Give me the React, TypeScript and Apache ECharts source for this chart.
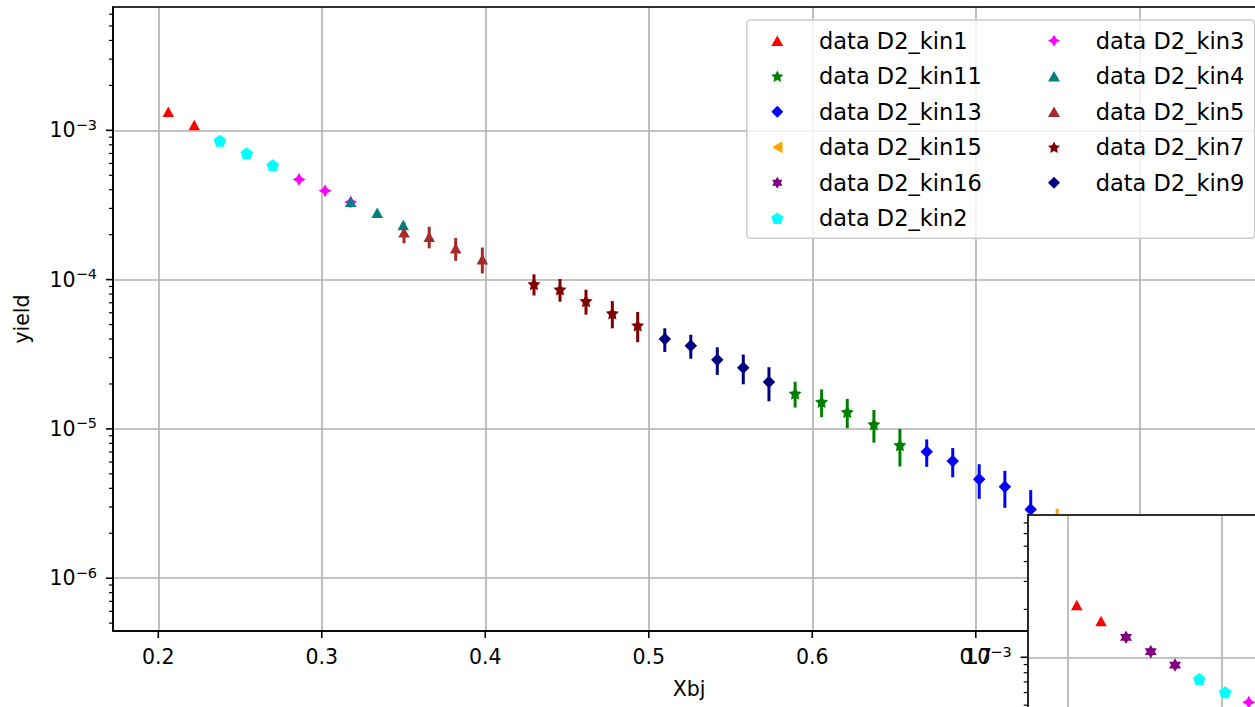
import React, { useEffect, useRef } from 'react';
import * as echarts from 'echarts';

const FONT = 'DejaVu Sans';

// ---------- main panel data (Xbj, yield, error) ----------
const kin1Xbj = [0.2061, 0.222];
const kin1Yield = [1.333e-3, 1.085e-3];
const kin1Err = [2.0e-5, 1.6e-5];

const kin11Xbj = [0.5895, 0.6057, 0.6214, 0.6377, 0.6536];
const kin11Yield = [1.73e-5, 1.52e-5, 1.3e-5, 1.074e-5, 7.8e-6];
const kin11Err = [3.4e-6, 3.2e-6, 2.9e-6, 2.65e-6, 2.2e-6];

const kin13Xbj = [0.67, 0.6859, 0.7021, 0.7178, 0.7336];
const kin13Yield = [7.04e-6, 6.09e-6, 4.6e-6, 4.1e-6, 2.89e-6];
const kin13Err = [1.47e-6, 1.35e-6, 1.2e-6, 1.14e-6, 1.0e-6];

const kin15Xbj = [0.7498];
const kin15Yield = [2.4e-6];
const kin15Err = [0.52e-6];

const kin16Xbj: number[] = [];
const kin16Yield: number[] = [];
const kin16Err: number[] = [];

const kin2Xbj = [0.2377, 0.2541, 0.27];
const kin2Yield = [8.52e-4, 7.01e-4, 5.83e-4];
const kin2Err = [1.5e-5, 1.3e-5, 1.1e-5];

const kin3Xbj = [0.2861, 0.302, 0.3177];
const kin3Yield = [4.69e-4, 3.94e-4, 3.31e-4];
const kin3Err = [1.0e-5, 0.9e-5, 0.8e-5];

const kin4Xbj = [0.3177, 0.3339, 0.3498];
const kin4Yield = [3.32e-4, 2.81e-4, 2.32e-4];
const kin4Err = [0.9e-5, 1.0e-5, 1.2e-5];

const kin5Xbj = [0.3503, 0.3657, 0.3819, 0.3982];
const kin5Yield = [2.08e-4, 1.94e-4, 1.62e-4, 1.37e-4];
const kin5Err = [3.3e-5, 3.2e-5, 2.85e-5, 2.7e-5];

const kin7Xbj = [0.4298, 0.4457, 0.4616, 0.4777, 0.4932];
const kin7Yield = [9.34e-5, 8.61e-5, 7.19e-5, 5.95e-5, 4.94e-5];
const kin7Err = [1.51e-5, 1.5e-5, 1.37e-5, 1.23e-5, 1.13e-5];

const kin9Xbj = [0.5098, 0.5257, 0.5419, 0.5578, 0.5735];
const kin9Yield = [4.0e-5, 3.61e-5, 2.91e-5, 2.57e-5, 2.06e-5];
const kin9Err = [7.2e-6, 6.6e-6, 6.1e-6, 5.8e-6, 5.3e-6];

// ---------- inset panel data ----------
const insetKin1Xbj = [0.2059, 0.2217];
const insetKin1Yield = [2.13e-3, 1.69e-3];
const insetKin16Xbj = [0.238, 0.2541, 0.2699];
const insetKin16Yield = [1.336e-3, 1.084e-3, 8.94e-4];
const insetKin2Xbj = [0.2857, 0.3025];
const insetKin2Yield = [7.3e-4, 6.02e-4];
const insetKin3Xbj = [0.3179];
const insetKin3Yield = [5.21e-4];

// ---------- ticks ----------
const xTickValues = [0.2, 0.3, 0.4, 0.5, 0.6, 0.7, 0.8];
const yDecadeTicks = [1e-6, 1e-5, 1e-4, 1e-3];
const yMinorDecades = [1e-7, 1e-6, 1e-5, 1e-4, 1e-3];
const minorMantissas = [2, 3, 4, 5, 6, 7, 8, 9];
const insetYDecadeTicks = [1e-3];
const insetYMinorDecades = [1e-4, 1e-3];

// ---------- axis ranges ----------
const X_MIN = 0.1723;
const X_MAX = 0.8769;
const Y_MIN = 4.43e-7;
const Y_MAX = 6.7e-3;
const IX_MIN = 0.17396;
const IX_MAX = 0.43438;
const IY_MIN = 1.019e-4;
const IY_MAX = 7.85e-3;

// ---------- marker shapes ----------
const TRI_UP = 'path://M0,0 L50,-86.6 L100,0 Z';
const TRI_LEFT = 'path://M0,50 L86.6,0 L86.6,100 Z';
const PENTAGON = 'path://M0,-100 L-95.1,-30.9 L-58.8,80.9 L58.8,80.9 L95.1,-30.9 Z';
const STAR5 =
  'path://M0,-100 L-30,-41 L-95.1,-30.9 L-48,15.6 L-58.8,80.9 L0,50 L58.8,80.9 L48,15.6 L95.1,-30.9 L30,-41 Z';
const STAR4 = 'path://M0,-100 L36,-36 L100,0 L36,36 L0,100 L-36,36 L-100,0 L-36,-36 Z';
const STAR6 =
  'path://M0,-100 L-29,-50 L-86.6,-50 L-58,0 L-86.6,50 L-29,50 L0,100 L29,50 L86.6,50 L58,0 L86.6,-50 L29,-50 Z';
const DIAMOND = 'path://M0,-100 L100,0 L0,100 L-100,0 Z';

const mainSets = [
  { name: 'data D2_kin1', xbj: kin1Xbj, yld: kin1Yield, err: kin1Err, color: '#ff0000', symbol: TRI_UP, size: [11.5, 10.5] },
  { name: 'data D2_kin11', xbj: kin11Xbj, yld: kin11Yield, err: kin11Err, color: '#008000', symbol: STAR5, size: [13, 12.5] },
  { name: 'data D2_kin13', xbj: kin13Xbj, yld: kin13Yield, err: kin13Err, color: '#0000ff', symbol: DIAMOND, size: [12.5, 12.5] },
  { name: 'data D2_kin15', xbj: kin15Xbj, yld: kin15Yield, err: kin15Err, color: '#ffa500', symbol: TRI_LEFT, size: [10.5, 11.5] },
  { name: 'data D2_kin16', xbj: kin16Xbj, yld: kin16Yield, err: kin16Err, color: '#800080', symbol: STAR6, size: [12, 13.5] },
  { name: 'data D2_kin2', xbj: kin2Xbj, yld: kin2Yield, err: kin2Err, color: '#00ffff', symbol: PENTAGON, size: [12.5, 12] },
  { name: 'data D2_kin3', xbj: kin3Xbj, yld: kin3Yield, err: kin3Err, color: '#ff00ff', symbol: STAR4, size: [13, 13] },
  { name: 'data D2_kin4', xbj: kin4Xbj, yld: kin4Yield, err: kin4Err, color: '#008080', symbol: TRI_UP, size: [11.5, 10.5] },
  { name: 'data D2_kin5', xbj: kin5Xbj, yld: kin5Yield, err: kin5Err, color: '#a52a2a', symbol: TRI_UP, size: [11.5, 10.5] },
  { name: 'data D2_kin7', xbj: kin7Xbj, yld: kin7Yield, err: kin7Err, color: '#800000', symbol: STAR5, size: [13, 12.5] },
  { name: 'data D2_kin9', xbj: kin9Xbj, yld: kin9Yield, err: kin9Err, color: '#000080', symbol: DIAMOND, size: [12.5, 12.5] },
];

const insetSets = [
  { xbj: insetKin1Xbj, yld: insetKin1Yield, color: '#ff0000', symbol: TRI_UP, size: [11.5, 10.5] },
  { xbj: insetKin16Xbj, yld: insetKin16Yield, color: '#800080', symbol: STAR6, size: [12, 13.5] },
  { xbj: insetKin2Xbj, yld: insetKin2Yield, color: '#00ffff', symbol: PENTAGON, size: [12.5, 12] },
  { xbj: insetKin3Xbj, yld: insetKin3Yield, color: '#ff00ff', symbol: STAR4, size: [13, 13] },
];

const legendCol1 = ['data D2_kin1', 'data D2_kin11', 'data D2_kin13', 'data D2_kin15', 'data D2_kin16', 'data D2_kin2'];
const legendCol2 = ['data D2_kin3', 'data D2_kin4', 'data D2_kin5', 'data D2_kin7', 'data D2_kin9'];

const minorValues = (decades: number[], lo: number, hi: number) => {
  const out: number[] = [];
  decades.forEach((d) => minorMantissas.forEach((m) => {
    const v = m * d;
    if (v > lo && v < hi) out.push(v);
  }));
  return out;
};

const errRender = (color: string) => (_p: any, api: any) => {
  const x = api.value(0);
  const y = api.value(1);
  const e = api.value(2);
  const a = api.coord([x, y + e]);
  const b = api.coord([x, y - e]);
  return {
    type: 'line',
    shape: { x1: a[0], y1: a[1], x2: b[0], y2: b[1] },
    style: { stroke: color, lineWidth: 3 },
  };
};

const tickRender = (dx: number, dy: number, w: number) => (_p: any, api: any) => {
  const p = api.coord([api.value(0), api.value(1)]);
  return {
    type: 'line',
    shape: { x1: p[0], y1: p[1], x2: p[0] + dx, y2: p[1] + dy },
    style: { stroke: '#000', lineWidth: w },
  };
};

const powLabel = (v: number) => {
  const e = Math.log10(v);
  const r = Math.round(e);
  if (Math.abs(e - r) > 1e-6) return '';
  return `{b|10}{s|\u2212${-r}}`;
};

const xLabel = (v: number) => {
  const r = Math.round(v * 10) / 10;
  return Math.abs(v - r) < 1e-6 ? r.toFixed(1) : '';
};

const richPow = {
  b: { fontSize: 20.5, fontFamily: FONT, color: '#000', lineHeight: 26 },
  s: { fontSize: 14.5, fontFamily: FONT, color: '#000', lineHeight: 14, verticalAlign: 'top' },
};

function buildOption() {
  const series: any[] = [];
  mainSets.forEach((s) => {
    series.push({
      type: 'custom',
      name: s.name + ' err',
      xAxisIndex: 0,
      yAxisIndex: 0,
      z: 2,
      silent: true,
      clip: true,
      data: s.xbj.map((x, i) => [x, s.yld[i], s.err[i]]),
      renderItem: errRender(s.color),
    });
    series.push({
      type: 'scatter',
      name: s.name,
      xAxisIndex: 0,
      yAxisIndex: 0,
      z: 2,
      silent: true,
      clip: true,
      symbol: s.symbol,
      symbolSize: s.size,
      itemStyle: { color: s.color, opacity: 1 },
      data: s.xbj.map((x, i) => [x, s.yld[i]]),
    });
  });
  // main ticks
  series.push({
    type: 'custom', xAxisIndex: 0, yAxisIndex: 0, z: 2, silent: true, clip: false,
    data: yDecadeTicks.map((v) => [X_MIN, v]),
    renderItem: tickRender(-7, 0, 1.6),
  });
  series.push({
    type: 'custom', xAxisIndex: 0, yAxisIndex: 0, z: 2, silent: true, clip: false,
    data: minorValues(yMinorDecades, Y_MIN, Y_MAX).map((v) => [X_MIN, v]),
    renderItem: tickRender(-4, 0, 1.2),
  });
  series.push({
    type: 'custom', xAxisIndex: 0, yAxisIndex: 0, z: 2, silent: true, clip: false,
    data: xTickValues.map((v) => [v, Y_MIN]),
    renderItem: tickRender(0, 7, 1.6),
  });
  // inset
  insetSets.forEach((s) => {
    series.push({
      type: 'scatter',
      xAxisIndex: 1,
      yAxisIndex: 1,
      z: 7,
      silent: true,
      clip: true,
      symbol: s.symbol,
      symbolSize: s.size,
      itemStyle: { color: s.color, opacity: 1 },
      data: s.xbj.map((x, i) => [x, s.yld[i]]),
    });
  });
  series.push({
    type: 'custom', xAxisIndex: 1, yAxisIndex: 1, z: 7, silent: true, clip: false,
    data: insetYDecadeTicks.map((v) => [IX_MIN, v]),
    renderItem: tickRender(-7, 0, 1.6),
  });
  series.push({
    type: 'custom', xAxisIndex: 1, yAxisIndex: 1, z: 7, silent: true, clip: false,
    data: minorValues(insetYMinorDecades, IY_MIN, IY_MAX).map((v) => [IX_MIN, v]),
    renderItem: tickRender(-4, 0, 1.2),
  });

  const legendBase = {
    orient: 'vertical',
    itemWidth: 12,
    itemHeight: 12,
    itemGap: 11.5,
    padding: 0,
    selectedMode: false,
    z: 4,
    textStyle: { fontSize: 22.5, fontFamily: FONT, color: '#000', lineHeight: 24, padding: [0, 0, 0, 30.7] },
  };

  const gridLine = { show: true, lineStyle: { color: '#b0b0b0', width: 1.6 } };
  const axisLine = { show: true, lineStyle: { color: '#000', width: 1.6 } };

  return {
    animation: false,
    backgroundColor: '#fff',
    textStyle: { fontFamily: FONT },
    grid: [
      {
        left: 113, top: 7, width: 1152, height: 624, show: true, borderColor: '#000', borderWidth: 1.6,
        backgroundColor: 'transparent', z: 1, containLabel: false, outerBoundsMode: 'none',
      },
      {
        left: 1027.7, top: 515, width: 400, height: 300, show: true, borderWidth: 0,
        backgroundColor: '#fff', z: 5, containLabel: false, outerBoundsMode: 'none',
      },
    ],
    xAxis: [
      {
        type: 'value', gridIndex: 0, min: X_MIN, max: X_MAX, splitNumber: 7, z: 0,
        axisLine, axisTick: { show: false }, splitLine: gridLine,
        axisLabel: { formatter: xLabel, fontSize: 20.5, fontFamily: FONT, color: '#000', margin: 15 },
        name: 'Xbj', nameLocation: 'middle', nameGap: 47,
        nameTextStyle: { fontSize: 20.5, fontFamily: FONT, color: '#000' },
      },
      {
        type: 'value', gridIndex: 1, min: IX_MIN, max: IX_MAX, splitNumber: 3, position: 'top', z: 6,
        axisLine, axisTick: { show: false }, splitLine: gridLine,
        axisLabel: { show: false },
      },
    ],
    yAxis: [
      {
        type: 'log', logBase: 10, gridIndex: 0, min: Y_MIN, max: Y_MAX, z: 0,
        axisLine, axisTick: { show: false }, splitLine: gridLine,
        axisLabel: { formatter: powLabel, rich: richPow, margin: 16 },
        name: 'yield', nameLocation: 'middle', nameGap: 81, nameRotate: 90,
        nameTextStyle: { fontSize: 20.5, fontFamily: FONT, color: '#000' },
      },
      {
        type: 'log', logBase: 10, gridIndex: 1, min: IY_MIN, max: IY_MAX, z: 6,
        axisLine, axisTick: { show: false }, splitLine: gridLine,
        axisLabel: { formatter: powLabel, rich: richPow, margin: 16 },
      },
    ],
    legend: [
      { ...legendBase, data: legendCol1, left: 771.3, top: 28.7 },
      { ...legendBase, data: legendCol2, left: 1048, top: 28.7 },
    ],
    graphic: [
      {
        type: 'rect', z: 3, silent: true,
        shape: { x: 746.7, y: 20, width: 508, height: 218.3, r: 4 },
        style: { fill: 'rgba(255,255,255,0.8)', stroke: '#cccccc', lineWidth: 1.6 },
      },
    ],
    series,
  };
}

export default function App() {
  const ref = useRef<HTMLDivElement>(null);
  useEffect(() => {
    if (!ref.current) return;
    const chart = echarts.init(ref.current, null, { renderer: 'svg' });
    chart.setOption(buildOption() as any);
    return () => chart.dispose();
  }, []);
  return (
    <div
      ref={ref}
      style={{ position: 'fixed', left: 0, top: 0, width: 1255, height: 707, background: '#fff' }}
    />
  );
}
